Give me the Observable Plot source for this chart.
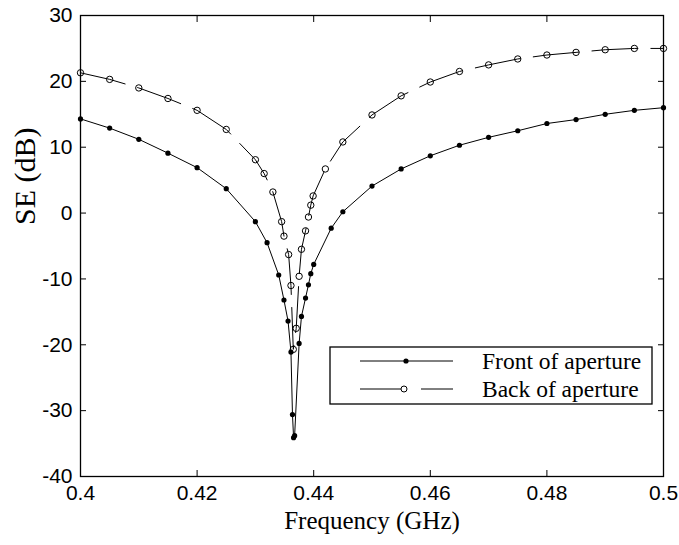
<!DOCTYPE html>
<html>
<head>
<meta charset="utf-8">
<script src="https://cdn.jsdelivr.net/npm/d3@7"></script>
<script src="https://cdn.jsdelivr.net/npm/@observablehq/plot@0.6"></script>
<style>
  html, body { margin: 0; padding: 0; background: #fff; }
  #chart { width: 679px; height: 545px; }
</style>
</head>
<body>
<div id="chart"></div>
<script>
// ---- data ----
const seriesNames = ["Front of aperture", "Back of aperture"];

const freqFront = [0.400, 0.405, 0.410, 0.415, 0.420, 0.425, 0.430, 0.432, 0.434, 0.4349,
  0.4356, 0.4361, 0.43636, 0.43655, 0.43673, 0.4375, 0.4379, 0.4386, 0.4391, 0.4395,
  0.4400, 0.4430, 0.4450, 0.4500, 0.4550, 0.4600, 0.4650, 0.4700, 0.4750, 0.4800,
  0.4850, 0.4900, 0.4950, 0.5000];
const seFront = [14.3, 12.9, 11.2, 9.1, 6.9, 3.7, -1.3, -4.5, -9.4, -13.2,
  -16.4, -21.1, -30.6, -34.1, -33.8, -19.8, -15.7, -12.9, -10.9, -9.2,
  -7.8, -2.3, 0.2, 4.1, 6.7, 8.7, 10.3, 11.5, 12.5, 13.6,
  14.2, 15.0, 15.6, 16.0];

const freqBack = [0.400, 0.405, 0.410, 0.415, 0.420, 0.425, 0.430, 0.4315, 0.433, 0.4345,
  0.4349, 0.4357, 0.4361, 0.4365, 0.4370, 0.4375, 0.4379, 0.4386, 0.4391, 0.4395,
  0.4399, 0.4420, 0.4450, 0.4500, 0.4550, 0.4600, 0.4650, 0.4700, 0.4750, 0.4800,
  0.4850, 0.4900, 0.4950, 0.5000];
const seBack = [21.3, 20.3, 19.0, 17.4, 15.6, 12.7, 8.1, 6.0, 3.2, -1.3,
  -3.5, -6.3, -11.0, -20.7, -17.5, -9.6, -5.5, -2.7, -0.6, 1.2,
  2.6, 6.7, 10.8, 14.9, 17.8, 19.9, 21.5, 22.5, 23.4, 24.0,
  24.4, 24.8, 25.0, 25.0];

const xTicks = [0.40, 0.42, 0.44, 0.46, 0.48, 0.50];
const yTicks = [-40, -30, -20, -10, 0, 10, 20, 30];
const xLabel = "Frequency (GHz)";
const yLabel = "SE (dB)";

// ---- tables ----
const front = freqFront.map((f, i) => ({f, se: seFront[i]}));
const back = freqBack.map((f, i) => ({f, se: seBack[i]}));

const sans = "Liberation Sans, Arial, sans-serif";
const serif = "Liberation Serif, Times New Roman, serif";

const chart = Plot.plot({
  width: 679,
  height: 545,
  marginLeft: 80,
  marginRight: 16,
  marginTop: 15,
  marginBottom: 69,
  x: {domain: [0.4, 0.5]},
  y: {domain: [-40, 30]},
  style: {background: "#fff", color: "#000", overflow: "visible"},
  marks: [
    Plot.frame({stroke: "#000", strokeWidth: 1.3}),
    // inward ticks on all four sides
    Plot.axisX(xTicks, {anchor: "bottom", tickSize: -6, tickFormat: () => "", label: null}),
    Plot.axisX(xTicks, {anchor: "top", tickSize: -6, tickFormat: () => "", label: null}),
    Plot.axisY(yTicks, {anchor: "left", tickSize: -6, tickFormat: () => "", label: null}),
    Plot.axisY(yTicks, {anchor: "right", tickSize: -6, tickFormat: () => "", label: null}),
    // tick labels
    Plot.axisX(xTicks, {anchor: "bottom", tickSize: 0, tickPadding: 9, fontSize: 21,
      fontFamily: sans, tickFormat: d => String(+d.toFixed(2)), label: null}),
    Plot.axisY(yTicks, {anchor: "left", tickSize: 0, tickPadding: 8, fontSize: 21,
      fontFamily: sans, tickFormat: d => String(d), label: null}),
    // axis titles
    Plot.text([xLabel], {frameAnchor: "bottom", dy: 52, fontSize: 25, fontFamily: serif, fill: "#000"}),
    Plot.text([yLabel], {frameAnchor: "left", dx: -55, dy: -21, rotate: -90, fontSize: 30, fontFamily: serif, fill: "#000"}),
    // series
    Plot.line(front, {x: "f", y: "se", stroke: "#000", strokeWidth: 1}),
    Plot.dot(front, {x: "f", y: "se", r: 2.6, fill: "#000", stroke: "none"}),
    Plot.line(back, {x: "f", y: "se", stroke: "#000", strokeWidth: 1, strokeDasharray: "46,13"}),
    Plot.dot(back, {x: "f", y: "se", r: 3.2, fill: "none", stroke: "#000", strokeWidth: 1})
  ]
});

document.getElementById("chart").appendChild(chart);

// ---- legend (inside the plot, lower right) ----
const svg = d3.select(chart);
const lg = svg.append("g").attr("class", "legend");
lg.append("rect").attr("x", 330).attr("y", 347).attr("width", 322).attr("height", 57)
  .attr("fill", "#fff").attr("stroke", "#000").attr("stroke-width", 1.3);
const rows = [{y: 361, filled: true}, {y: 389, filled: false}];
rows.forEach((r, i) => {
  if (r.filled) {
    lg.append("line").attr("x1", 360).attr("x2", 453).attr("y1", r.y).attr("y2", r.y).attr("stroke", "#000");
    lg.append("circle").attr("cx", 406).attr("cy", r.y).attr("r", 2.6).attr("fill", "#000");
  } else {
    lg.append("line").attr("x1", 360).attr("x2", 401).attr("y1", r.y).attr("y2", r.y).attr("stroke", "#000");
    lg.append("line").attr("x1", 421).attr("x2", 453).attr("y1", r.y).attr("y2", r.y).attr("stroke", "#000");
    lg.append("circle").attr("cx", 404).attr("cy", r.y).attr("r", 3).attr("fill", "none").attr("stroke", "#000");
  }
  lg.append("text").attr("x", 482).attr("y", r.y).attr("dy", "0.35em")
    .attr("text-anchor", "start")
    .attr("font-family", serif).attr("font-size", 23.5).attr("fill", "#000").text(seriesNames[i]);
});
</script>
</body>
</html>
